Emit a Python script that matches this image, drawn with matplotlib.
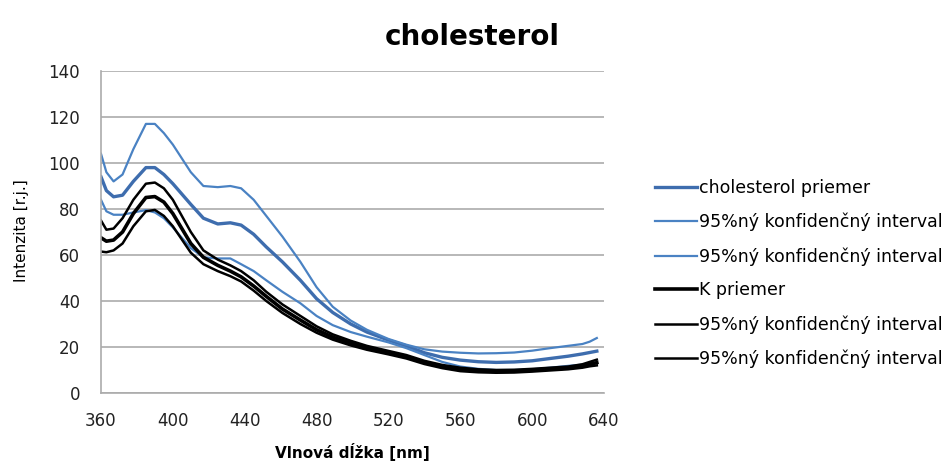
import numpy as np
import matplotlib
matplotlib.use("Agg")
import matplotlib.pyplot as plt

wl = [360, 363, 367, 372, 378, 385, 390, 395, 400, 410, 417, 425, 432, 438,
      445, 452, 461, 471, 480, 489, 499, 508, 520, 530, 540, 550, 560, 570,
      580, 590, 600, 610, 620, 628, 632, 636]

# cholesterol - mean and 95% confidence interval
chol_upper = [104, 96, 92, 95, 106, 117, 117, 113, 108, 96, 90, 89.5, 90, 89,
              84, 77, 68, 57, 46, 37.5, 31.5, 27.5, 23.5, 21, 19, 18, 17.5, 17.2,
              17.3, 17.6, 18.4, 19.5, 20.5, 21.3, 22.3, 23.9]
chol_mean = [94, 88, 85.3, 86, 92, 98, 98, 95, 91, 82, 76, 73.5, 74, 73,
             69, 63.5, 57, 49, 41, 35, 30, 26.5, 23, 20.5, 17.5, 15.5, 14.3, 13.6,
             13.3, 13.5, 14, 15, 16, 17, 17.6, 18.2]
chol_lower = [84, 79, 77.5, 77.5, 78.5, 79.5, 78.5, 76, 72, 63, 59, 58.5, 58.5, 56,
              53, 49, 44, 39, 33.5, 29.5, 26.5, 24.5, 22, 19.5, 16.5, 13.5, 11.5, 10.5,
              10, 10, 10.3, 11, 11.8, 12.3, 12.6, 13]

# K (control) - mean and 95% confidence interval
k_upper = [75, 71, 71.5, 76, 84, 91, 91.5, 89, 84, 70, 62, 58, 55.5, 53,
           49, 44, 38.5, 33.5, 29, 25.5, 22.7, 20.5, 18.3, 16.5, 14, 12.2, 11, 10.3,
           10, 10.1, 10.5, 11, 11.5, 12.5, 13.5, 14.5]
k_mean = [67.5, 66, 66.5, 70, 78, 85, 85.4, 83, 78, 65, 59, 55.5, 53, 50.5,
          46.5, 42, 36.5, 31.7, 27.5, 24.3, 21.7, 19.6, 17.5, 15.7, 13.3, 11.5, 10.2, 9.6,
          9.4, 9.5, 9.9, 10.4, 10.9, 11.8, 12.5, 13.2]
k_lower = [61.5, 61.2, 62, 65, 72.5, 79, 79.6, 77, 72.5, 61, 56, 53, 50.8, 48.5,
           44.5, 40, 34.8, 30, 26.2, 23.2, 20.7, 18.8, 16.8, 15, 12.6, 10.8, 9.5, 9,
           8.8, 8.9, 9.3, 9.8, 10.3, 11, 11.6, 12]

ci_label = "95%ný konfidenčný interval"

plt.rcParams['font.family'] = ['DejaVu Sans']

fig = plt.figure(figsize=(9.51, 4.68), dpi=100)
ax = fig.add_axes([101/951, 1-393/468, (604-101)/951, (393-71)/468])

blue_mean = '#3E6DAE'
blue_ci = '#4A82C3'

l1, = ax.plot(wl, chol_mean, color=blue_mean, lw=2.4, label="cholesterol priemer")
l2, = ax.plot(wl, chol_upper, color=blue_ci, lw=1.6, label=ci_label)
l3, = ax.plot(wl, chol_lower, color=blue_ci, lw=1.6, label=ci_label)
l4, = ax.plot(wl, k_mean, color='black', lw=2.6, label="K priemer")
l5, = ax.plot(wl, k_upper, color='black', lw=1.8, label=ci_label)
l6, = ax.plot(wl, k_lower, color='black', lw=1.8, label=ci_label)

ax.set_xlim(360, 640)
ax.set_ylim(0, 140)
ax.set_xticks(np.arange(360, 641, 40))
ax.set_yticks(np.arange(0, 141, 20))
ax.tick_params(axis='both', length=0, labelsize=12, colors='#222222')
ax.tick_params(axis='x', pad=14)
ax.tick_params(axis='y', pad=15)
ax.grid(axis='y', color='#ABABAB', lw=1.2)
ax.set_axisbelow(True)
for s in ['top', 'right']:
    ax.spines[s].set_visible(False)
ax.spines['left'].set_color('#ABABAB')
ax.spines['bottom'].set_color('#ABABAB')
ax.spines['left'].set_linewidth(1.2)
ax.spines['bottom'].set_linewidth(1.2)

fig.text(0.497, 1-45/468, "cholesterol", ha='center', va='baseline',
         fontsize=20, fontweight='bold')
fig.text(352/951, 1-458/468, "Vlnová dĺžka [nm]", ha='center', va='baseline',
         fontsize=11, fontweight='bold')
fig.text(22/951, 1-231/468, "Intenzita [r.j.]", ha='center', va='center',
         rotation=90, fontsize=11)

fig.legend(handles=[l1, l2, l3, l4, l5, l6], loc='upper left',
           bbox_to_anchor=(655/951, 1-179/468), frameon=False,
           fontsize=12.5, borderpad=0, borderaxespad=0,
           handlelength=2.4, handletextpad=0.15, labelspacing=0.91)

fig.savefig('out.png', dpi=100)
